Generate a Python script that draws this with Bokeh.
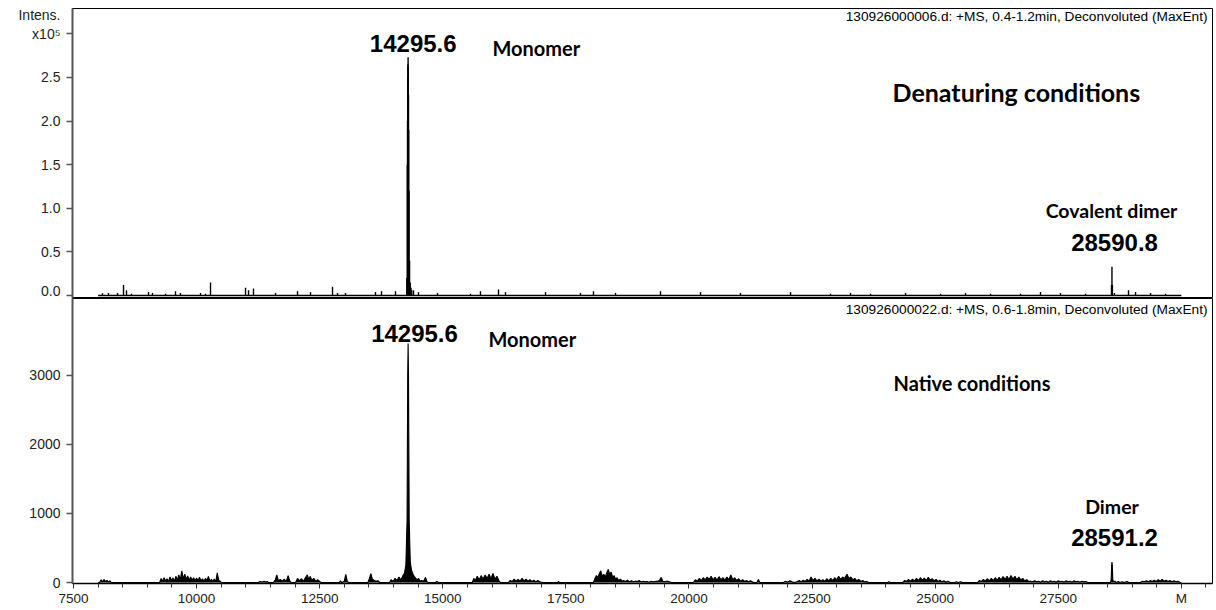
from bokeh.plotting import figure
from bokeh.models import Range1d, FixedTicker, Label
from bokeh.layouts import column
from bokeh.embed import file_html
from bokeh.resources import INLINE

# ---------------- data ----------------
spectrum_range = [8000, 30000]

# Denaturing conditions: stick peaks (mass, intensity)
top_mass = [8089, 8211, 8394, 8516, 8577, 8678, 9024, 9105, 9369, 9572, 9673,
            10080, 10181, 10283, 10994, 11055, 11156, 11603, 12050, 12314, 12761,
            12862, 13024, 13633, 13756, 14040,
            14270, 14280, 14284, 14288, 14292, 14296, 14300, 14304, 14308, 14314,
            14326, 14340, 14355, 14370,
            14406, 14507, 14893, 15563, 15766, 16132, 16274, 17087, 17797, 18061,
            18508, 19422, 20235, 21047, 22063, 22875, 23282, 23688, 24399, 25110,
            25617, 26125, 26734, 27140, 27546, 28054,
            28582, 28591, 28600, 28640, 28927, 29070, 29375, 29680]
top_int = [2500, 3000, 3000, 12000, 6000, 2000, 4000, 3000, 2000, 5000, 3000,
           3000, 2000, 15000, 9000, 6000, 8000, 3000, 5000, 4000, 10000,
           3000, 3000, 4000, 5000, 5000,
           20000, 150000, 200000, 250000, 265000, 273000, 262000, 230000, 190000, 120000,
           40000, 15000, 9000, 6000,
           6000, 4000, 3000, 2000, 5000, 7000, 4000, 4000, 3000, 5000,
           3000, 5000, 4000, 3000, 4000, 2000, 3000, 2000, 3000, 2000,
           3000, 2000, 2000, 4000, 3000, 2000,
           12000, 33000, 12000, 3000, 6000, 4000, 3000, 2000]

# Native conditions: profile (mass, intensity)
bot_mass = [8000,
            8030, 8060, 8090, 8120, 8150, 8180, 8210, 8240, 8270,
            9250, 9280, 9310, 9340, 9370, 9400, 9430, 9460, 9490, 9520, 9550, 9580,
            9610, 9640, 9670, 9700, 9730, 9760, 9790, 9820, 9850, 9880, 9910, 9940,
            9970, 10000, 10030, 10060, 10090, 10120, 10150, 10180, 10210, 10240,
            10270, 10300, 10330, 10360, 10390, 10420, 10450, 10480, 10510,
            11250, 11290, 11330, 11370, 11410, 11440, 11460,
            11560, 11600, 11630, 11660, 11700, 11740, 11780, 11820, 11860, 11890, 11920,
            12010, 12050, 12090, 12130, 12170, 12210, 12250, 12280, 12310, 12340,
            12380, 12420, 12460, 12500, 12530,
            12900, 12920, 12950, 13000, 13030, 13060, 13090,
            13480, 13510, 13540, 13570, 13610, 13650, 13690, 13720,
            13920, 13950, 13990, 14030, 14070, 14110, 14150, 14190, 14220, 14250,
            14275, 14288, 14296, 14304, 14318, 14340, 14365, 14395, 14420, 14450,
            14480, 14510, 14540, 14570, 14610, 14650, 14680, 14710,
            14850, 14880, 14910,
            15600, 15630, 15660, 15700, 15740, 15780, 15820, 15860, 15900, 15940,
            15980, 16020, 16060, 16100, 16140, 16170,
            16335, 16370, 16410, 16450, 16490, 16530, 16570, 16610, 16650, 16690,
            16730, 16770, 16810, 16850, 16890, 16930, 16970, 17030,
            17330, 17350, 17370,
            18060, 18090, 18120, 18150, 18180, 18210, 18240, 18270, 18300, 18330,
            18360, 18390, 18420, 18450, 18480, 18510, 18540, 18570, 18610, 18640,
            18670, 18710, 18750, 18790, 18830, 18870, 18910, 18950, 18990, 19030,
            19070, 19110, 19150, 19190, 19230, 19270, 19310, 19360, 19400, 19436,
            19470, 19510, 19550, 19600, 19650,
            20090, 20130, 20170, 20210, 20250, 20290, 20330, 20370, 20410, 20450,
            20490, 20530, 20570, 20610, 20650, 20690, 20730, 20770, 20810, 20850,
            20890, 20930, 20970, 21010, 21050, 21090, 21130, 21170, 21210, 21250, 21310,
            21380, 21410, 21440,
            21920, 21960, 22000, 22050, 22090, 22150, 22200, 22240, 22280, 22320,
            22360, 22400, 22440, 22480, 22520, 22560, 22600, 22640, 22680, 22720,
            22760, 22800, 22840, 22880, 22920, 22960, 23000, 23040, 23080, 23120,
            23160, 23210, 23250, 23290, 23330, 23370, 23410, 23450, 23490, 23530,
            23570, 23610, 23650,
            24030, 24060, 24090,
            24337, 24380, 24420, 24460, 24500, 24540, 24580, 24620, 24660, 24700,
            24740, 24780, 24820, 24860, 24900, 24940, 24980, 25020, 25060, 25100,
            25140, 25180, 25220, 25260, 25310,
            25400, 25430, 25470, 25520, 25550,
            25860, 25900, 25940, 25980, 26020, 26060, 26100, 26140, 26180, 26220,
            26260, 26300, 26340, 26380, 26420, 26460, 26500, 26540, 26580, 26620,
            26660, 26700, 26740, 26780, 26820, 26860, 26900, 26940,
            26980, 27020, 27060, 27100, 27140, 27180, 27220, 27260, 27300, 27340,
            27380, 27420, 27460, 27500, 27540, 27580, 27620, 27660, 27700, 27740,
            27780, 27820, 27860, 27900, 27940, 27980, 28020, 28060, 28100,
            28560, 28575, 28585, 28591, 28598, 28608, 28625, 28650, 28680,
            28720, 28750, 28800, 28830, 28900, 28930,
            29170, 29210, 29250, 29290, 29330, 29370, 29410, 29450, 29490, 29530,
            29570, 29610, 29650, 29690, 29730, 29770, 29810, 29850, 29890, 29930,
            29970, 30000]
bot_int = [0,
           0, 40, 10, 45, 15, 30, 10, 25, 0,
           0, 60, 20, 70, 25, 55, 15, 80, 30, 65, 20, 90,
           35, 110, 40, 170, 50, 120, 45, 95, 30, 80, 35, 70,
           25, 65, 30, 75, 25, 55, 20, 60, 30, 90,
           20, 45, 15, 50, 10, 140, 30, 20, 0,
           0, 15, 8, 20, 8, 15, 0,
           0, 40, 110, 30, 45, 20, 50, 15, 100, 30, 0,
           0, 60, 25, 55, 20, 70, 110, 40, 90, 30,
           60, 20, 40, 15, 0,
           0, 25, 0, 20, 120, 20, 0,
           0, 60, 130, 50, 30, 20, 25, 0,
           0, 40, 15, 60, 30, 80, 40, 100, 130, 250,
           900, 3000, 3460, 3000, 900, 300, 180, 120, 90, 60,
           40, 60, 20, 30, 20, 75, 10, 0,
           0, 15, 0,
           0, 60, 30, 90, 40, 100, 50, 110, 60, 120,
           60, 130, 50, 90, 30, 0,
           0, 30, 15, 50, 20, 45, 20, 60, 25, 50,
           20, 40, 15, 35, 10, 30, 10, 0,
           0, 15, 0,
           0, 60, 100, 70, 130, 170, 90, 120, 80, 140,
           190, 120, 150, 80, 100, 50, 70, 30, 50, 20,
           30, 15, 35, 10, 25, 10, 20, 15, 30, 10,
           20, 10, 15, 5, 20, 10, 15, 20, 30, 75,
           20, 10, 20, 10, 0,
           0, 40, 20, 60, 30, 70, 40, 80, 45, 90,
           40, 75, 35, 85, 40, 70, 35, 80, 40, 110,
           40, 70, 30, 55, 20, 40, 15, 30, 10, 25, 0,
           0, 45, 0,
           0, 20, 5, 25, 10, 0, 15, 30, 10, 35,
           15, 45, 20, 80, 30, 60, 25, 50, 20, 40,
           20, 55, 25, 60, 30, 70, 40, 90, 45, 80,
           60, 120, 60, 80, 40, 60, 25, 45, 15, 30,
           10, 15, 0,
           0, 10, 0,
           0, 30, 15, 45, 20, 50, 25, 60, 30, 70,
           35, 65, 30, 75, 35, 55, 25, 45, 15, 35,
           10, 25, 5, 20, 0,
           0, 10, 0, 10, 0,
           0, 30, 15, 45, 20, 55, 25, 60, 30, 70,
           35, 75, 40, 85, 45, 90, 45, 100, 50, 90,
           40, 80, 35, 60, 25, 40, 15, 20,
           10, 25, 10, 20, 5, 25, 10, 20, 5, 25,
           10, 20, 5, 25, 10, 20, 5, 25, 10, 20,
           5, 25, 10, 20, 5, 20, 10, 15, 0,
           0, 40, 250, 296, 250, 40, 10, 20, 0,
           15, 0, 10, 0, 15, 0,
           0, 20, 10, 25, 10, 30, 15, 35, 15, 40,
           20, 45, 20, 35, 15, 30, 10, 25, 10, 20,
           5, 0]

top_ticks = [0, 50000, 100000, 150000, 200000, 250000, 300000]
top_tick_labels = ["0.0", "0.5", "1.0", "1.5", "2.0", "2.5", "Intens.\nx10\u2075\n"]
bot_ticks = [0, 1000, 2000, 3000]
x_ticks = [7500, 10000, 12500, 15000, 17500, 20000, 22500, 25000, 27500, 30000]
x_tick_labels = ["7500", "10000", "12500", "15000", "17500", "20000", "22500",
                 "25000", "27500", "M"]
x_minor = [7500 + 500 * i for i in range(47)]

titles = ["130926000006.d: +MS, 0.4-1.2min, Deconvoluted (MaxEnt)",
          "130926000022.d: +MS, 0.6-1.8min, Deconvoluted (MaxEnt)"]
top_masses = ["14295.6", "28590.8"]
bot_masses = ["14295.6", "28591.2"]
top_names = ["Monomer", "Covalent dimer", "Denaturing conditions"]
bot_names = ["Monomer", "Dimer", "Native conditions"]

# ---------------- style ----------------
W = 1214
AX = "Liberation Sans"
CAL = "Lato"
x_range = Range1d(7480, 30633)


def style_axes(p):
    p.grid.visible = False
    p.outline_line_color = "black"
    p.outline_line_width = 1
    ya = p.yaxis[0]
    ya.axis_line_color = "#555555"
    ya.axis_line_width = 2
    ya.major_tick_line_color = "#555555"
    ya.major_tick_line_width = 1.5
    ya.major_tick_out = 6
    ya.major_tick_in = 0
    ya.minor_tick_out = 0
    ya.minor_tick_in = 0
    ya.major_label_text_font = AX
    ya.major_label_text_font_size = "14px"
    ya.major_label_text_color = "#222222"
    ya.major_label_standoff = 6


top = figure(width=W, height=298, x_range=x_range, y_range=Range1d(-3400, 329000),
             output_backend="svg", toolbar_location=None,
             min_border_left=72, min_border_right=2, min_border_top=8,
             min_border_bottom=0, x_axis_location=None)
style_axes(top)
top.yaxis.ticker = FixedTicker(ticks=top_ticks)
top.yaxis.major_label_overrides = {t: l for t, l in zip(top_ticks, top_tick_labels)}

top.line(spectrum_range, [0, 0], line_color="black", line_width=1.5)
top.segment(x0=top_mass, y0=[0] * len(top_mass), x1=top_mass, y1=top_int,
            line_color="black", line_width=1.4)

bot = figure(width=W, height=310, x_range=x_range, y_range=Range1d(-14, 4112),
             output_backend="svg", toolbar_location=None,
             min_border_left=72, min_border_right=2, min_border_top=0,
             min_border_bottom=0)
style_axes(bot)
bot.yaxis.ticker = FixedTicker(ticks=bot_ticks)
xa = bot.xaxis[0]
xa.ticker = FixedTicker(ticks=x_ticks, minor_ticks=x_minor)
xa.major_label_overrides = {t: l for t, l in zip(x_ticks, x_tick_labels)}
xa.axis_line_color = "black"
xa.axis_line_width = 1.5
xa.major_tick_out = 5
xa.major_tick_in = 0
xa.minor_tick_out = 4
xa.minor_tick_in = 0
xa.major_tick_line_color = "#333333"
xa.minor_tick_line_color = "#333333"
xa.major_label_text_font = AX
xa.major_label_text_font_size = "13.5px"
xa.major_label_text_color = "#222222"
xa.major_label_standoff = 2

bot.varea(x=bot_mass, y1=[0] * len(bot_mass), y2=bot_int, fill_color="black")
bot.line(bot_mass, bot_int, line_color="black", line_width=1.1)


def lab(p, x, y, text, font, size, bold=True, align="center"):
    p.add_layout(Label(x=x, y=y, text=text, text_font=font, text_font_size=size,
                       text_font_style="bold" if bold else "normal",
                       text_align=align, text_baseline="middle", text_color="black"))


# top panel annotations
lab(top, 30532, 320000, titles[0], AX, "13.7px", bold=False, align="right")
lab(top, 14400, 288500, top_masses[0], AX, "24px")
lab(top, 16010, 283300, top_names[0], CAL, "20px", align="left")
lab(top, 24135, 232800, top_names[2], CAL, "25px", align="left")
lab(top, 28582, 97500, top_names[1], CAL, "19.5px")
lab(top, 28643, 61100, top_masses[1], AX, "24px")

# bottom panel annotations
lab(bot, 30532, 3954, titles[1], AX, "13.7px", bold=False, align="right")
lab(bot, 14426, 3608, bot_masses[0], AX, "24px")
lab(bot, 15929, 3521, bot_names[0], CAL, "20px", align="left")
lab(bot, 24155, 2886, bot_names[2], CAL, "20px", align="left")
lab(bot, 28592, 1101, bot_names[1], CAL, "19.5px")
lab(bot, 28643, 649, bot_masses[1], AX, "24px")

layout = column(top, bot, spacing=0)
open("out.html", "w").write(file_html(layout, INLINE))
